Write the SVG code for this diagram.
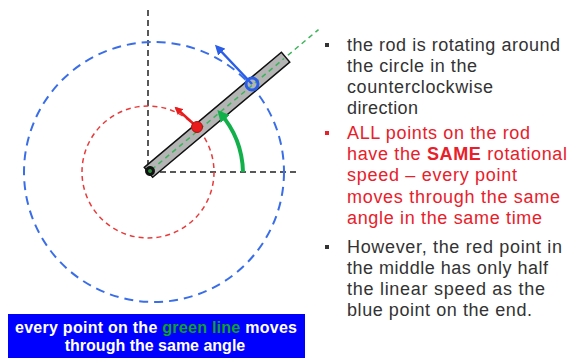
<svg xmlns="http://www.w3.org/2000/svg" width="568" height="358" viewBox="0 0 568 358">
<style>
.txt{font-family:"Liberation Sans",Arial,sans-serif;font-size:18px}
.blk{fill:#333}
.red{fill:#e8202a}
.cap{font-family:"Liberation Sans",Arial,sans-serif;font-size:16px;font-weight:bold;fill:#fff}
</style>
<defs>
<marker id="ahR" markerWidth="8" markerHeight="8" refX="6" refY="4" orient="auto" markerUnits="userSpaceOnUse"><path d="M0,0 L8,4 L0,8 Z" fill="#e81c1c"/></marker>
<marker id="ahB" markerWidth="10" markerHeight="10" refX="7" refY="5" orient="auto" markerUnits="userSpaceOnUse"><path d="M0,0 L10,5 L0,10 Z" fill="#2a5ee8"/></marker>
<marker id="ahG" markerWidth="12" markerHeight="12" refX="8" refY="6" orient="auto" markerUnits="userSpaceOnUse"><path d="M0,0 L12,6 L0,12 Z" fill="#12b04a"/></marker>
</defs>
<rect width="568" height="358" fill="#fff"/>
<g id="axes">
<line x1="148" y1="10" x2="148" y2="172" stroke="#222" stroke-width="1.5" stroke-dasharray="6,4"/>
<line x1="150" y1="172" x2="298" y2="172" stroke="#222" stroke-width="1.5" stroke-dasharray="6,4"/>
</g>
<g id="circles">
<circle cx="154" cy="172" r="130" fill="none" stroke="#3a6ee8" stroke-width="2" stroke-dasharray="9,6"/>
<circle cx="148" cy="172" r="66" fill="none" stroke="#e83a3a" stroke-width="1.5" stroke-dasharray="5,4"/>
</g>
<g id="rod" transform="translate(150,171) rotate(-40)">
<line x1="0" y1="0" x2="220" y2="0" stroke="#3cb45a" stroke-width="1.5" stroke-dasharray="5,4"/>
<rect x="-2" y="-6.5" width="179" height="13" fill="#b4b4b4" stroke="#111" stroke-width="1.5"/>
<line x1="2" y1="0" x2="175" y2="0" stroke="#3cb45a" stroke-width="1.5" stroke-dasharray="5,4"/>
<circle cx="0" cy="0" r="5" fill="#111"/>
<circle cx="0" cy="0" r="2" fill="#2a8a3a"/>
</g>
<g id="connectors">
<line x1="197" y1="127" x2="176" y2="108" stroke="#e81c1c" stroke-width="2.5" marker-end="url(#ahR)"/>
<line x1="252" y1="84" x2="217" y2="47" stroke="#2a5ee8" stroke-width="2.5" marker-end="url(#ahB)"/>
<path d="M243,172 A93,93 0 0 0 220,113" fill="none" stroke="#12b04a" stroke-width="4" marker-end="url(#ahG)"/>
</g>
<g id="points">
<circle cx="197" cy="127" r="5.5" fill="#e81c1c" stroke="#b01010" stroke-width="1"/>
<circle cx="252" cy="84" r="6" fill="none" stroke="#2a5ee8" stroke-width="3"/>
</g>
<g id="caption">
<rect x="8" y="314" width="297" height="44" fill="#0000ff"/>
<text class="cap" x="156" y="333" text-anchor="middle" textLength="282">every point on the <tspan fill="#12a02a">green line</tspan> moves</text>
<text class="cap" x="155" y="351" text-anchor="middle">through the same angle</text>
</g>
<g id="bullets" class="txt">
<rect x="325" y="43" width="4" height="4" fill="#333"/>
<text class="blk" x="347" y="51" textLength="213">the rod is rotating around</text>
<text class="blk" x="347" y="72" textLength="130">the circle in the</text>
<text class="blk" x="347" y="93" textLength="146">counterclockwise</text>
<text class="blk" x="347" y="114" textLength="71">direction</text>
<rect x="325" y="131" width="4" height="4" fill="#e8202a"/>
<text class="red" x="347" y="139" textLength="183">ALL points on the rod</text>
<text class="red" x="347" y="160" textLength="220">have the <tspan font-weight="bold">SAME</tspan> rotational</text>
<text class="red" x="347" y="181" textLength="170">speed – every point</text>
<text class="red" x="347" y="203" textLength="213">moves through the same</text>
<text class="red" x="347" y="224" textLength="195">angle in the same time</text>
<rect x="325" y="245" width="4" height="4" fill="#333"/>
<text class="blk" x="347" y="253" textLength="215">However, the red point in</text>
<text class="blk" x="347" y="274" textLength="201">the middle has only half</text>
<text class="blk" x="347" y="295" textLength="198">the linear speed as the</text>
<text class="blk" x="347" y="316" textLength="185">blue point on the end.</text>
</g>
</svg>
